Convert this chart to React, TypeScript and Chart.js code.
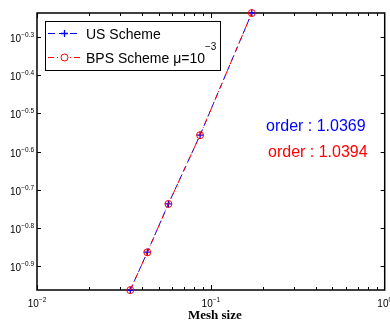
import React, { useEffect, useRef } from "react";
import { Chart, registerables } from "chart.js";

Chart.register(...registerables);

// ---- data ----
const meshSizes = [0.0344, 0.0431, 0.057, 0.0867, 0.172];
const usErrors = [0.1089, 0.1368, 0.1831, 0.2773, 0.5794];
const bpsErrors = [0.1088, 0.1367, 0.183, 0.2772, 0.5794];
const seriesNames = ["US Scheme", "BPS Scheme \u03bc=10"];
const bpsMuExponent = "\u22123";
const orderTexts = ["order : 1.0369", "order : 1.0394"];
const yTickExponents = [-0.9, -0.8, -0.7, -0.6, -0.5, -0.4, -0.3];
const yTickLabels = ["\u22120.9", "\u22120.8", "\u22120.7", "\u22120.6", "\u22120.5", "\u22120.4", "\u22120.3"];
const xDecades = [-2, -1, 0];
const xTickLabels = ["\u22122", "\u22121", "0"];
const xAxisTitle = "Mesh size";
const yRangeExponents = [-0.963, -0.237];

const BLUE = "rgb(0,0,255)";
const RED = "rgb(255,0,0)";
const SANS = '"Liberation Sans", Arial, sans-serif';
const SERIF = '"Liberation Serif", "Times New Roman", serif';

function drawPower(ctx: CanvasRenderingContext2D, base: string, exp: string, x: number, y: number, align: "right" | "center", baseSize: number, expSize: number, expRaise: number, color = "#000") {
  ctx.fillStyle = color;
  ctx.textAlign = "left";
  ctx.textBaseline = "alphabetic";
  ctx.font = `${baseSize}px ${SANS}`;
  const wb = ctx.measureText(base).width;
  ctx.font = `${expSize}px ${SANS}`;
  const we = ctx.measureText(exp).width;
  const total = wb + we;
  const x0 = align === "right" ? x - total : x - total / 2;
  ctx.font = `${baseSize}px ${SANS}`;
  ctx.fillText(base, x0, y);
  ctx.font = `${expSize}px ${SANS}`;
  ctx.fillText(exp, x0 + wb, y - expRaise);
}

const axesPlugin = {
  id: "matlabAxes",
  beforeDatasetsDraw(chart: any) {
    const { ctx, chartArea: a, scales } = chart;
    const xs = scales.x;
    const ys = scales.y;
    ctx.save();
    ctx.strokeStyle = "#000";
    ctx.lineWidth = 1;
    // x ticks (major + minor), inward, bottom and top
    for (const d of xDecades.slice(0, 2)) {
      for (let m = 1; m <= 9; m++) {
        const px = Math.round(xs.getPixelForValue(m * Math.pow(10, d))) + 0.5;
        const len = m === 1 ? 5 : 3;
        ctx.beginPath();
        ctx.moveTo(px, a.bottom);
        ctx.lineTo(px, a.bottom - len);
        ctx.moveTo(px, a.top);
        ctx.lineTo(px, a.top + len);
        ctx.stroke();
      }
    }
    // y ticks, inward, left and right
    for (const e of yTickExponents) {
      const py = Math.round(ys.getPixelForValue(Math.pow(10, e))) + 0.5;
      ctx.beginPath();
      ctx.moveTo(a.left, py);
      ctx.lineTo(a.left + 4, py);
      ctx.moveTo(a.right, py);
      ctx.lineTo(a.right - 4, py);
      ctx.stroke();
    }
    // box
    ctx.lineWidth = 1.5;
    ctx.strokeRect(a.left, a.top, a.right - a.left, a.bottom - a.top);

    // y tick labels
    yTickExponents.forEach((e, i) => {
      const py = ys.getPixelForValue(Math.pow(10, e));
      drawPower(ctx, "10", yTickLabels[i], a.left - 3, py + 5, "right", 10, 6.5, 5);
    });
    // x tick labels
    xDecades.forEach((d, i) => {
      const px = xs.getPixelForValue(Math.pow(10, d));
      drawPower(ctx, "10", xTickLabels[i], px, a.bottom + 17, "center", 10, 6.5, 5);
    });
    // x axis title
    ctx.fillStyle = "#000";
    ctx.font = `bold 13px ${SERIF}`;
    ctx.textAlign = "center";
    ctx.textBaseline = "alphabetic";
    ctx.fillText(xAxisTitle, (a.left + a.right) / 2 + 4, a.bottom + 29);
    ctx.restore();
  },
  afterDatasetsDraw(chart: any) {
    const { ctx } = chart;
    ctx.save();
    // legend box
    const lx = 45, ly = 21, lw = 175, lh = 49;
    ctx.fillStyle = "#fff";
    ctx.fillRect(lx, ly, lw, lh);
    ctx.strokeStyle = "#000";
    ctx.lineWidth = 1;
    ctx.strokeRect(lx + 0.5, ly + 0.5, lw, lh);
    // row 1: US
    const r1 = 33.5, r2 = 57.5;
    ctx.strokeStyle = BLUE;
    ctx.setLineDash([7, 4]);
    ctx.beginPath();
    ctx.moveTo(48, r1);
    ctx.lineTo(81, r1);
    ctx.stroke();
    ctx.setLineDash([]);
    ctx.lineWidth = 1.3;
    ctx.beginPath();
    ctx.moveTo(64.5 - 3.5, r1);
    ctx.lineTo(64.5 + 3.5, r1);
    ctx.moveTo(64.5, r1 - 3.5);
    ctx.lineTo(64.5, r1 + 3.5);
    ctx.stroke();
    // row 2: BPS
    ctx.lineWidth = 1;
    ctx.strokeStyle = RED;
    ctx.setLineDash([6, 3, 1, 3]);
    ctx.beginPath();
    ctx.moveTo(48, r2);
    ctx.lineTo(81, r2);
    ctx.stroke();
    ctx.setLineDash([]);
    ctx.fillStyle = "#fff";
    ctx.beginPath();
    ctx.arc(64.5, r2, 3.5, 0, Math.PI * 2);
    ctx.fill();
    ctx.stroke();
    // legend text
    ctx.fillStyle = "#000";
    ctx.font = `14px ${SANS}`;
    ctx.textAlign = "left";
    ctx.textBaseline = "alphabetic";
    ctx.fillText(seriesNames[0], 86, 39);
    ctx.fillText(seriesNames[1], 86, 63);
    const w = ctx.measureText(seriesNames[1]).width;
    ctx.font = `10px ${SANS}`;
    ctx.fillText(bpsMuExponent, 86 + w, 50);
    // order annotations
    ctx.font = `16px ${SANS}`;
    ctx.fillStyle = BLUE;
    ctx.fillText(orderTexts[0], 266, 131);
    ctx.fillStyle = RED;
    ctx.fillText(orderTexts[1], 268, 157);
    ctx.restore();
  },
};

export default function App() {
  const ref = useRef<HTMLCanvasElement | null>(null);
  useEffect(() => {
    if (!ref.current) return;
    const chart = new Chart(ref.current, {
      type: "scatter",
      data: {
        datasets: [
          {
            label: seriesNames[0],
            data: meshSizes.map((x, i) => ({ x, y: usErrors[i] })),
            showLine: true,
            borderColor: BLUE,
            borderWidth: 1,
            borderDash: [6, 4],
            pointStyle: "cross",
            pointRadius: 3.5,
            pointBorderColor: BLUE,
            pointBorderWidth: 1.3,
            pointBackgroundColor: BLUE,
            order: 2,
            clip: false,
          } as any,
          {
            label: seriesNames[1] + bpsMuExponent,
            data: meshSizes.map((x, i) => ({ x, y: bpsErrors[i] })),
            showLine: true,
            borderColor: RED,
            borderWidth: 1,
            borderDash: [6, 3, 1, 3],
            pointStyle: "circle",
            pointRadius: 3.5,
            pointBorderColor: RED,
            pointBorderWidth: 1,
            pointBackgroundColor: "rgba(0,0,0,0)",
            order: 1,
            clip: false,
          } as any,
        ],
      },
      options: {
        animation: false,
        responsive: false,
        events: [],
        layout: { padding: { left: 37, top: 13, right: 4, bottom: 30 } },
        scales: {
          x: { type: "logarithmic", min: 0.01, max: 1, display: false },
          y: {
            type: "logarithmic",
            min: Math.pow(10, yRangeExponents[0]),
            max: Math.pow(10, yRangeExponents[1]),
            display: false,
          },
        },
        plugins: { legend: { display: false }, tooltip: { enabled: false } },
      },
      plugins: [axesPlugin],
    });
    return () => chart.destroy();
  }, []);
  return (
    <div style={{ position: "fixed", left: 0, top: 0, width: 390, height: 320, background: "#fff" }}>
      <canvas ref={ref} width={390} height={320} />
    </div>
  );
}
